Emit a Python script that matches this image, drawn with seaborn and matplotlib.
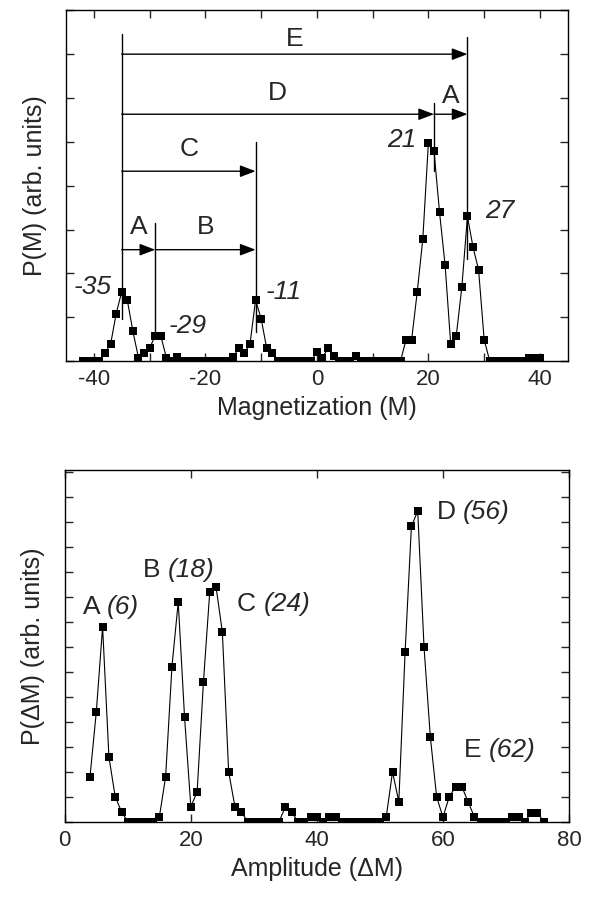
import numpy as np
import pandas as pd
import matplotlib
matplotlib.use('Agg')
import matplotlib.pyplot as plt
from matplotlib.ticker import MultipleLocator
import seaborn as sns

sns.set_style('ticks')
plt.rcParams['font.family'] = ['Liberation Sans', 'DejaVu Sans']
plt.rcParams['axes.unicode_minus'] = False

#%% data

# top panel: P(M) against magnetization
mag = np.arange(-42, 41)
p_mag = [0, 0, 0, 0,
         0.19, 0.38, 1.08, 1.58, 1.39, 0.68, 0.08, 0.19, 0.29, 0.58, 0.58, 0.08, 0, 0.1,
         0, 0, 0, 0, 0, 0, 0, 0, 0,
         0.1, 0.29, 0.19, 0.38, 1.39, 0.97, 0.29, 0.19,
         0, 0, 0, 0, 0, 0, 0,
         0.21, 0.08, 0.29, 0.11, 0, 0, 0, 0.11,
         0, 0, 0, 0, 0, 0, 0, 0,
         0.49, 0.49, 1.58, 2.79, 4.98, 4.8, 3.39, 2.18, 0.39, 0.58, 1.69, 3.3, 2.6, 2.08, 0.49,
         0, 0, 0, 0, 0, 0, 0,
         0.08, 0.08, 0.08]

peak_pos = [-35, -29, -11, 21, 27]
peak_text = ['-35', '-29', '-11', '21', '27']
peak_text_xy = [(-40.3, 1.7), (-23.2, 0.8), (-5.9, 1.58), (15.2, 5.04), (32.8, 3.43)]
# vertical marker lines (bottom, top)
peak_line_y = [(0.97, 7.47), (0.6, 3.14), (0.67, 5.0), (4.34, 5.89), (2.33, 7.39)]

# arrows between peaks: start, end, height, label, label height
arrow_start = [-35, -35, -35, -35, -29, 21]
arrow_end = [27, 21, -11, -29, -11, 27]
arrow_y = [7.0, 5.63, 4.33, 2.54, 2.54, 5.63]
arrow_lab = ['E', 'D', 'C', 'A', 'B', 'A']
arrow_lab_y = [7.35, 6.12, 4.83, 3.05, 3.05, 6.05]

# bottom panel: P(dM) against amplitude
amp = np.arange(4, 77)
p_amp = [1.8, 4.4, 7.8, 2.6, 1.0, 0.4,
         0, 0, 0, 0, 0,
         0.18, 1.8, 6.2, 8.8, 4.2, 0.6, 1.2, 5.6, 9.2, 9.4, 7.6, 2.0, 0.6, 0.4,
         0, 0, 0, 0, 0, 0,
         0.6, 0.4, 0, 0, 0.18, 0.18, 0, 0.18, 0.18,
         0, 0, 0, 0, 0, 0, 0,
         0.18, 2.0, 0.8, 6.8, 11.83, 12.44, 7.0, 3.4, 1.0, 0.18, 1.0, 1.4, 1.4, 0.8, 0.18,
         0, 0, 0, 0, 0,
         0.18, 0.18, 0, 0.36, 0.36, 0]

amp_lab = ['A', 'B', 'C', 'D', 'E']
amp_val = ['(6)', '(18)', '(24)', '(56)', '(62)']
amp_lab_xy = [(6.6, 8.6), (16.4, 10.07), (31.5, 8.73), (63.2, 12.4), (67.3, 2.87)]

df_mag = pd.DataFrame({'M': mag, 'P': p_mag})
df_amp = pd.DataFrame({'dM': amp, 'P': p_amp})

#%% figure
fig = plt.figure(figsize=(5.89, 8.97), dpi=100)
ax1 = fig.add_axes([0.112, 0.5975, 0.852, 0.391])
ax2 = fig.add_axes([0.110, 0.0839, 0.856, 0.392])

line_kws = dict(marker='s', markersize=6, color='black', linewidth=0.8,
                markeredgecolor='black', markeredgewidth=0)

sns.lineplot(data=df_mag, x='M', y='P', ax=ax1, **line_kws)
sns.lineplot(data=df_amp, x='dM', y='P', ax=ax2, **line_kws)

# peak marker lines and arrows
for x, (y0, y1) in zip(peak_pos, peak_line_y):
    ax1.plot([x, x], [y0, y1], color='black', lw=1)
for x0, x1, y, lab, ly in zip(arrow_start, arrow_end, arrow_y, arrow_lab, arrow_lab_y):
    ax1.annotate('', xy=(x1, y), xytext=(x0, y),
                 arrowprops=dict(arrowstyle='-|>,head_length=0.47,head_width=0.18',
                                 mutation_scale=20, color='black', lw=1,
                                 shrinkA=0, shrinkB=0))
    ax1.text((x0 + x1) / 2, ly, lab, ha='center', va='center', fontsize=19)
for t, (x, y) in zip(peak_text, peak_text_xy):
    ax1.text(x, y, t, ha='center', va='center', fontsize=19, style='italic')

for lab, val, (x, y) in zip(amp_lab, amp_val, amp_lab_xy):
    ax2.text(x, y, lab + ' ', ha='right', va='center', fontsize=19)
    ax2.text(x, y, val, ha='left', va='center', fontsize=19, style='italic')

# axes
ax1.set_xlim(-45, 45)
ax1.set_ylim(0, 8)
ax1.xaxis.set_major_locator(MultipleLocator(20))
ax1.xaxis.set_minor_locator(MultipleLocator(10))
ax1.yaxis.set_major_locator(MultipleLocator(1))
ax1.set_xlabel('Magnetization (M)', fontsize=18)
ax1.set_ylabel('P(M) (arb. units)', fontsize=18, labelpad=14)

ax2.set_xlim(0, 80)
ax2.set_ylim(0, 14.08)
ax2.xaxis.set_major_locator(MultipleLocator(20))
ax2.yaxis.set_major_locator(MultipleLocator(1))
ax2.set_xlabel('Amplitude (\u0394M)', fontsize=18)
ax2.set_ylabel('P(\u0394M) (arb. units)', fontsize=18, labelpad=14)

for ax in (ax1, ax2):
    ax.tick_params(which='both', direction='in', top=True, right=True,
                   length=6, width=1, labelsize=16, pad=6, labelleft=False)
    for s in ax.spines.values():
        s.set_linewidth(1)
        s.set_color('black')

plt.savefig('out.png', dpi=100)
